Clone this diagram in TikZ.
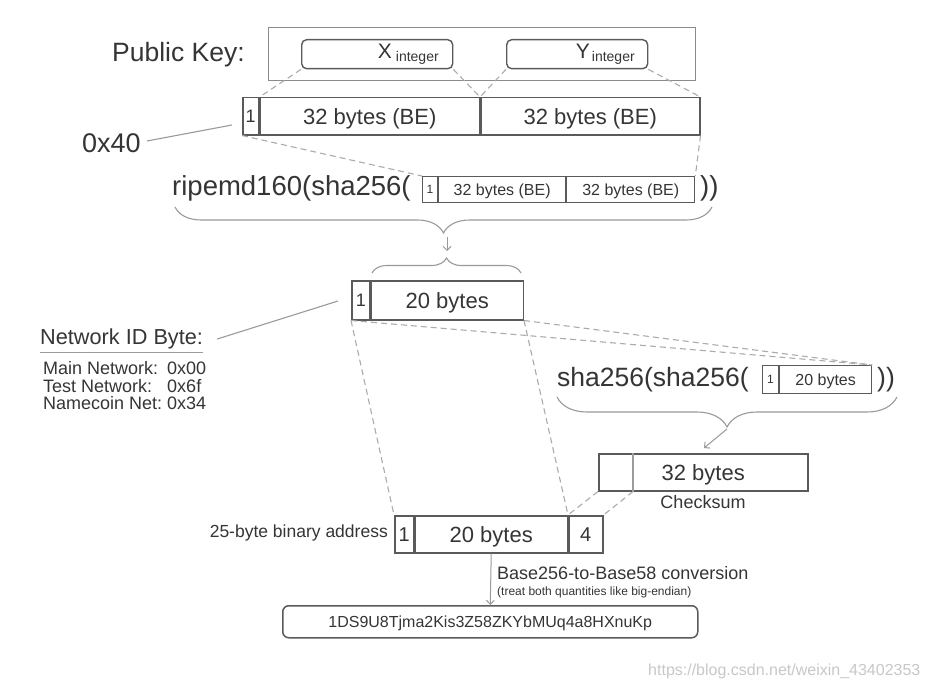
\documentclass[tikz,border=0pt]{standalone}
\usepackage{fontspec}
\setmainfont{Liberation Sans}
\usetikzlibrary{decorations.pathreplacing,arrows.meta}
\definecolor{txt}{HTML}{353535}
\definecolor{bord}{HTML}{5A5A5A}
\definecolor{dashc}{HTML}{ABABAB}
\definecolor{brcol}{HTML}{9A9A9A}
\definecolor{wm}{HTML}{C8C8C8}
\newcommand\myfs[1]{\fontsize{#1}{#1}\selectfont}
\begin{document}
\begin{tikzpicture}[x=1pt,y=-1pt,
  cell/.style={draw=bord, line width=1.5pt, inner sep=0pt, anchor=north west, text=txt},
  thincell/.style={cell, line width=1.1pt},
  tA/.style={font=\myfs{22}, text height=15.8pt, text depth=0pt},
  tB/.style={font=\myfs{18}, text height=12.9pt, text depth=0pt},
  tC/.style={font=\myfs{16}, text height=11.5pt, text depth=0pt},
  tD/.style={font=\myfs{12}, text height=8.6pt, text depth=0pt},
  tE/.style={font=\myfs{20}, text height=14.3pt, text depth=0pt},
  dashln/.style={draw=dashc, line width=1.1pt, dash pattern=on 6pt off 4pt},
  solidln/.style={draw=brcol, line width=1.1pt},
  bracestyle/.style={draw=brcol, line width=1.1pt, decorate},
  lbl/.style={text=txt, inner sep=0pt},
  arr/.style={draw=brcol, line width=1pt, -{Straight Barb[length=4pt,width=8pt]}}
]
\useasboundingbox (0,0) rectangle (928,690);
\fill[white] (0,0) rectangle (928,690);

% Public key
\node[lbl, anchor=west, font=\myfs{26.5}] (pklbl) at (112,55) {Public Key:};
\node[draw=bord!70, line width=1.2pt, minimum width=427, minimum height=53, anchor=north west, inner sep=0pt] (pk) at (268,27) {};
\node[draw=bord, line width=1.4pt, rounded corners=5pt, minimum height=29, anchor=north west, inner xsep=14pt, inner ysep=0pt, text width=123pt, align=right, text=txt] (xb) at (301,39) {\myfs{21}X\kern4pt\raisebox{-3pt}{\myfs{14}integer}};
\node[draw=bord, line width=1.4pt, rounded corners=5pt, minimum height=29, anchor=north west, inner xsep=13pt, inner ysep=0pt, text width=115pt, align=right, text=txt] (yb) at (506,39) {\myfs{21}Y\kern2pt\raisebox{-3pt}{\myfs{14}integer}};

% row 1
\node[cell, tB, minimum width=16, minimum height=37] (r1a) at (242,97) {1};
\node[cell, tA, minimum width=219, minimum height=37] (r1b) at (r1a.north east) {32 bytes (BE)};
\node[cell, tA, minimum width=219, minimum height=37] (r1c) at (r1b.north east) {32 bytes (BE)};

\draw[dashln] (xb.south west) -- (r1b.north west);
\draw[dashln] (xb.south east) -- (r1b.north east);
\draw[dashln] (yb.south west) -- (r1c.north west);
\draw[dashln] (yb.south east) -- (r1c.north east);

% 0x40
\node[lbl, font=\myfs{27}, anchor=west] (hex40) at (82,143) {0x40};
\coordinate (c40) at (232,125);
\draw[solidln] ([xshift=6pt,yshift=2pt]hex40.east) -- (c40);

% ripemd row
\node[lbl, anchor=west, font=\myfs{27.5}] (rip) at (172,188) {ripemd160(sha256(};
\node[thincell, tD, minimum width=15, minimum height=26] (s1a) at (422,176) {1};
\node[thincell, tC, minimum width=127, minimum height=26] (s1b) at (s1a.north east) {32 bytes (BE)};
\node[thincell, tC, minimum width=128, minimum height=26] (s1c) at (s1b.north east) {32 bytes (BE)};
\node[lbl, anchor=west, font=\myfs{27.5}] (ripc) at (700,188) {))};

\draw[dashln] (r1a.south west) -- (s1a.north west);
\draw[dashln] (r1c.south east) -- (s1c.north east);

% brace 1 and arrow
\coordinate (b1l) at (175,207);
\coordinate (b1r) at (712,207);
\draw[bracestyle, decoration={brace, mirror, amplitude=26pt}] (b1l) -- (b1r);
\coordinate (a1s) at (447,237);
\coordinate (a1e) at (447,251);
\draw[arr] (a1s) -- (a1e);
\coordinate (b2l) at (372,273);
\coordinate (b2r) at (521,273);
\draw[bracestyle, decoration={brace, amplitude=15pt}] (b2l) -- (b2r);

% 20 bytes box
\node[cell, tB, minimum width=18, minimum height=39] (m1a) at (351,280) {1};
\node[cell, tA, minimum width=152, minimum height=39] (m1b) at (m1a.north east) {20 bytes};

% Network ID
\node[lbl, anchor=west, font=\myfs{21.7}] (netid) at (40,339) {Network ID Byte:};
\draw[draw=txt!50, line width=1pt] ([yshift=-3pt]netid.south west) -- ([yshift=-3pt]netid.south east);
\node[lbl, anchor=north west, align=left] (nets) at (43,361) {\fontsize{18}{16}\selectfont\begin{tabular}{@{}l@{\hspace{5pt}}l@{}}Main Network: & 0x00\\ Test Network: & 0x6f\\ Namecoin Net: & 0x34\end{tabular}};
\coordinate (nidend) at (338,301);
\draw[solidln] ([xshift=14pt]netid.east) -- (nidend);

% sha row
\node[lbl, anchor=west, font=\myfs{26.5}] (sha) at (557,380) {sha256(sha256(};
\node[thincell, tD, minimum width=16, minimum height=28] (h1a) at (762,365) {1};
\node[thincell, tC, minimum width=92, minimum height=28] (h1b) at (h1a.north east) {20 bytes};
\node[lbl, anchor=west, font=\myfs{26.5}] (shac) at (877,380) {))};
\coordinate (b3l) at (557,397);
\coordinate (b3r) at (897,397);
\draw[bracestyle, decoration={brace, mirror, amplitude=30pt}] (b3l) -- (b3r);
\coordinate (a3s) at (727,429);
\coordinate (a3e) at (704,448);
\draw[arr] (a3s) -- (a3e);

% checksum
\node[cell, tA, minimum width=209, minimum height=37] (cs) at (598,453) {32 bytes};
\coordinate (csdt) at ([xshift=35pt]cs.north west);
\coordinate (csdb) at ([xshift=35pt]cs.south west);
\draw[draw=bord!60, line width=1.1pt] (csdt) -- (csdb);
\node[lbl, font=\myfs{18}] (cslbl) at (703,502) {Checksum};

% 25-byte address
\node[cell, tE, minimum width=19, minimum height=37] (z1a) at (394,515) {1};
\node[cell, tA, minimum width=152, minimum height=37] (z1b) at (z1a.north east) {20 bytes};
\node[cell, tE, minimum width=34, minimum height=37] (z1c) at (z1b.north east) {4};
\node[lbl, anchor=east, font=\myfs{17.5}] (z1lbl) at (388,533) {25-byte binary address};

% dashed from 20 bytes box
\draw[dashln] (m1a.south west) -- (z1a.north west);
\draw[dashln] (m1b.south east) -- (z1b.north east);
\draw[dashln] (m1a.south west) -- (h1b.north east);
\draw[dashln] (m1b.south east) -- (h1b.north east);
% dashed from checksum
\draw[dashln] (cs.south west) -- (z1c.north west);
\draw[dashln] (csdb) -- (z1c.north east);

% final
\node[draw=bord, line width=1.5pt, rounded corners=6pt, minimum width=415, minimum height=32, anchor=north west, inner sep=0pt, tC, text=txt] (fb) at (282,605) {1DS9U8Tjma2Kis3Z58ZKYbMUq4a8HXnuKp};
\draw[arr] (z1b.south) -- (fb.north);
\node[lbl, anchor=west, font=\myfs{18}] (b58) at (497,573) {Base256-to-Base58 conversion};
\node[lbl, anchor=west, font=\myfs{12}] (b58n) at (497,592) {(treat both quantities like big-endian)};

% watermark
\node[anchor=west, text=wm, font=\myfs{16}, inner sep=0pt] (wmk) at (648,671) {https://blog.csdn.net/weixin\_43402353};
\end{tikzpicture}
\end{document}
